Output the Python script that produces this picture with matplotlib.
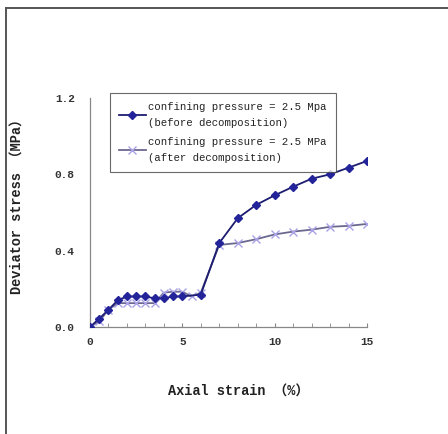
#!/usr/bin/env python3
"""Deviator stress vs axial strain, before/after decomposition (2.5 MPa)."""

import matplotlib
matplotlib.use("Agg")
import matplotlib.pyplot as plt
from matplotlib.lines import Line2D
from matplotlib.ticker import MultipleLocator

# DATA
STRAIN_BEFORE = [0, 0.5, 1, 1.5, 2, 2.5, 3, 3.5, 4, 4.5, 5, 6, 7, 8, 9, 10, 11, 12, 13, 14, 15]
STRESS_BEFORE = [0.0, 0.044, 0.09, 0.14, 0.16, 0.16, 0.16, 0.15, 0.15, 0.16, 0.16, 0.17,
                 0.44, 0.57, 0.64, 0.69, 0.735, 0.777, 0.80, 0.835, 0.87]

STRAIN_AFTER = [0, 0.5, 1, 1.5, 2, 2.5, 3, 3.5, 4, 4.5, 5, 5.5, 6, 7, 8, 9, 10, 11, 12, 13, 14, 15]
STRESS_AFTER = [0.0, 0.03, 0.09, 0.125, 0.125, 0.125, 0.125, 0.125, 0.18, 0.185, 0.185, 0.16,
                0.18, 0.43, 0.44, 0.46, 0.485, 0.50, 0.51, 0.525, 0.53, 0.54]

LABEL_BEFORE = "confining pressure = 2.5 Mpa\n(before decomposition)"
LABEL_AFTER = "confining pressure = 2.5 MPa\n(after decomposition)"

X_TICKS = [0, 5, 10, 15]
Y_TICKS = [0.0, 0.4, 0.8, 1.2]

W, H = 448, 434
DPI = 100
FONT = ["Liberation Mono", "Noto Sans CJK SC"]

COLOR_BEFORE = "#1c1c70"
MARK_BEFORE = "#23239a"
COLOR_AFTER = "#6b6890"
MARK_AFTER = "#a9a2e6"


def main() -> None:
    fig = plt.figure(figsize=(W / DPI, H / DPI), dpi=DPI)
    ax = fig.add_axes([90 / W, 1 - 327 / H, 277 / W, 229 / H])

    ax.plot(STRAIN_AFTER, STRESS_AFTER, color=COLOR_AFTER, linewidth=1.3,
            marker="x", markersize=6, markeredgecolor=MARK_AFTER, markeredgewidth=1.0,
            label=LABEL_AFTER, zorder=2)
    ax.plot(STRAIN_BEFORE, STRESS_BEFORE, color=COLOR_BEFORE, linewidth=1.3,
            marker="D", markersize=3.8, markerfacecolor=MARK_BEFORE, markeredgecolor=MARK_BEFORE,
            label=LABEL_BEFORE, zorder=3)

    ax.set_xlim(0, 15)
    ax.set_ylim(0, 1.2)
    ax.set_xticks(X_TICKS)
    ax.set_yticks(Y_TICKS)
    ax.set_yticklabels([f"{v:.1f}" for v in Y_TICKS])
    ax.xaxis.set_minor_locator(MultipleLocator(1))
    ax.tick_params(axis="x", which="both", direction="in", length=3, pad=7,
                   color="#888888", labelsize=8, labelcolor="#333333")
    ax.tick_params(axis="y", which="both", length=0, pad=11, labelsize=8,
                   labelcolor="#333333")
    for lab in ax.get_xticklabels() + ax.get_yticklabels():
        lab.set_family(FONT)
        lab.set_fontweight("bold")

    for side in ("top", "right"):
        ax.spines[side].set_visible(False)
    for side in ("left", "bottom"):
        ax.spines[side].set_color("#888888")
        ax.spines[side].set_linewidth(0.9)

    handles, labels = ax.get_legend_handles_labels()
    leg = fig.legend(handles[::-1], labels[::-1], loc="upper left",
                     bbox_to_anchor=(110 / W, 1 - 93 / H),
                     prop={"family": FONT, "size": 7.7},
                     frameon=True, fancybox=False, edgecolor="#444444",
                     handlelength=2.5, handletextpad=0.2, borderpad=0.85,
                     labelspacing=0.9, borderaxespad=0)
    leg.get_frame().set_linewidth(0.8)
    for txt in leg.get_texts():
        txt.set_linespacing(1.7)
        txt.set_color("#222222")

    fig.text(238 / W, 1 - 392 / H, "Axial strain （%）", ha="center", va="center",
             family=FONT, fontsize=9.8, fontweight="bold", color="#222222")
    fig.text(18 / W, 1 - 203 / H, "Deviator stress （MPa）", ha="center", va="center",
             rotation=90, family=FONT, fontsize=9.8, fontweight="bold", color="#222222")

    # outer frame (left and top edges only)
    fig.add_artist(Line2D([5.5 / W, 5.5 / W], [0, 1 - 7.5 / H], color="#555555", linewidth=1.4))
    fig.add_artist(Line2D([5.5 / W, 1], [1 - 7.5 / H, 1 - 7.5 / H], color="#555555", linewidth=1.4))

    fig.savefig("out.png", dpi=DPI)
    plt.close(fig)


if __name__ == "__main__":
    main()
